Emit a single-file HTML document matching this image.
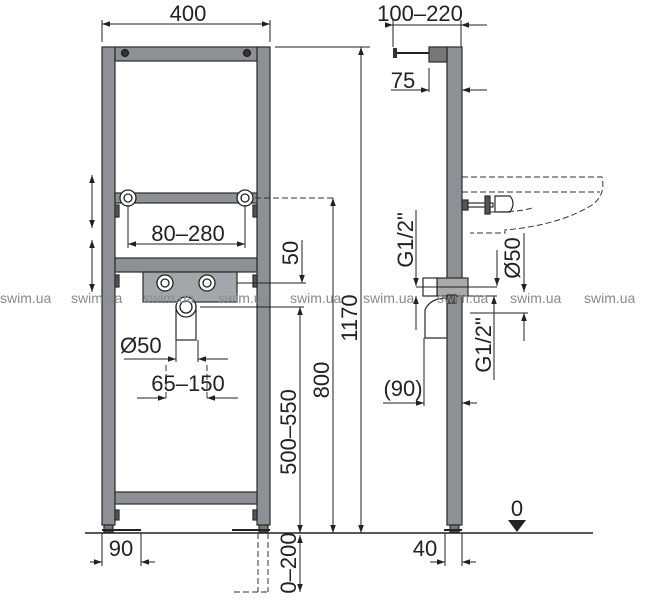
<!DOCTYPE html>
<html><head><meta charset="utf-8"><style>
html,body{margin:0;padding:0;background:#fff;width:655px;height:600px;overflow:hidden}
svg{display:block}
text{font-family:"Liberation Sans",sans-serif;fill:#222}
.d{font-size:22px}
.w{font-size:14px;fill:#8a8a8a}
</style></head><body>
<svg width="655" height="600" viewBox="0 0 655 600" xmlns="http://www.w3.org/2000/svg">
<defs>
<marker id="a" viewBox="0 0 10 10" refX="10" refY="5" markerWidth="8" markerHeight="8" orient="auto-start-reverse"><path d="M0,1.5 L10,5 L0,8.5z" fill="#222"/></marker>
</defs>
<g stroke="#222" stroke-width="1" fill="none">
<!-- floor -->
<line x1="85" y1="533" x2="593" y2="533" stroke-width="1.6"/>
</g>
<!-- FRONT FRAME -->
<g fill="#8e9095" stroke="#2a2a2a" stroke-width="1.2">
<rect x="102" y="47" width="13" height="478"/>
<rect x="257" y="47" width="13" height="478"/>
<rect x="115" y="47" width="142" height="14"/>
<rect x="115" y="258" width="142" height="14"/>
<rect x="115" y="492" width="142" height="12"/>
<rect x="115" y="193" width="142" height="10"/>
<rect x="143" y="272" width="94" height="30" fill="#a4a6aa"/>
<rect x="176" y="306" width="20" height="34" fill="#fff"/>
<rect x="104" y="525" width="9" height="7" fill="#777"/>
<rect x="259" y="525" width="9" height="7" fill="#777"/>
<rect x="115" y="510" width="4" height="10" fill="#555"/>
<rect x="253" y="510" width="4" height="10" fill="#555"/>
<rect x="115" y="205" width="4" height="12" fill="#555"/>
<rect x="253" y="205" width="4" height="12" fill="#555"/>
<rect x="115" y="275" width="4" height="12" fill="#555"/>
<rect x="253" y="275" width="4" height="12" fill="#555"/>
</g>
<g fill="#fff" stroke="#222" stroke-width="1.3">
<circle cx="125" cy="53" r="3.5" fill="#333"/>
<circle cx="247" cy="53" r="3.5" fill="#333"/>
<circle cx="128" cy="198" r="8"/><circle cx="128" cy="198" r="4"/>
<circle cx="245" cy="198" r="8"/><circle cx="245" cy="198" r="4"/>
<circle cx="165" cy="283" r="8"/><circle cx="165" cy="283" r="4"/>
<circle cx="207" cy="283" r="8"/><circle cx="207" cy="283" r="4"/>
<circle cx="186" cy="307" r="10"/><circle cx="186" cy="307" r="6"/>
</g>
<line x1="102" y1="530" x2="141" y2="530" stroke="#222" stroke-width="2"/>
<line x1="232" y1="530" x2="270" y2="530" stroke="#222" stroke-width="2"/>
<!-- SIDE FRAME -->
<g fill="#8e9095" stroke="#2a2a2a" stroke-width="1.2">
<rect x="447" y="47" width="15" height="478"/>
<rect x="429" y="47" width="18" height="15" fill="#777"/>
<rect x="450" y="525" width="9" height="7" fill="#777"/>
<rect x="437" y="278" width="31" height="18" fill="#aaa"/>
<path d="M425,338 L425,310 Q430,298 447,298 L447,338z" fill="#fff"/>
<rect x="462" y="200" width="6" height="10" fill="#555"/>
<rect x="468" y="203" width="25" height="4" fill="#fff"/>
<rect x="485" y="196" width="5" height="18" fill="#555"/>
<path d="M495,196 L510,196 Q516,203 510,212 L495,212z" fill="#fff"/>
<rect x="423" y="278" width="14" height="18" fill="#fff"/>
<rect x="447" y="295" width="9" height="8" fill="#555"/>
</g>
<line x1="395" y1="53" x2="429" y2="53" stroke="#222" stroke-width="2"/>
<rect x="393" y="48" width="4" height="10" fill="#333"/>
<line x1="444" y1="530" x2="462" y2="530" stroke="#222" stroke-width="2"/>
<!-- sink dashed -->
<g stroke="#333" stroke-width="1" fill="none" stroke-dasharray="6,3">
<path d="M462,177 L602,177 Q606,195 592,205 Q560,225 505,230 L505,233 L470,233"/>
<line x1="462" y1="192" x2="600" y2="192"/>
<path d="M490,212 Q520,212 532,208"/>
<line x1="258" y1="533" x2="258" y2="592"/>
<line x1="268" y1="533" x2="268" y2="592"/>
<line x1="234" y1="592" x2="268" y2="592"/>
<line x1="166" y1="365" x2="166" y2="398"/>
<line x1="207" y1="365" x2="207" y2="398"/>
<line x1="255" y1="198" x2="333" y2="198"/>
</g>
<!-- DIMENSIONS -->
<g stroke="#222" stroke-width="1" fill="none">
<line x1="102" y1="20" x2="102" y2="42"/><line x1="270" y1="20" x2="270" y2="42"/>
<line x1="102" y1="24" x2="270" y2="24" marker-start="url(#a)" marker-end="url(#a)"/>
<line x1="128" y1="205" x2="128" y2="248"/><line x1="245" y1="205" x2="245" y2="248"/>
<line x1="128" y1="244" x2="245" y2="244" marker-start="url(#a)" marker-end="url(#a)"/>
<line x1="92" y1="175" x2="92" y2="228" marker-start="url(#a)" marker-end="url(#a)"/>
<line x1="92" y1="240" x2="92" y2="292" marker-start="url(#a)" marker-end="url(#a)"/>
<line x1="302" y1="240" x2="302" y2="283" marker-end="url(#a)"/>
<line x1="237" y1="283" x2="306" y2="283"/>
<line x1="333" y1="198" x2="333" y2="533" marker-start="url(#a)" marker-end="url(#a)"/>
<line x1="275" y1="47" x2="370" y2="47"/>
<line x1="361" y1="47" x2="361" y2="533" marker-start="url(#a)" marker-end="url(#a)"/>
<line x1="200" y1="307" x2="304" y2="307"/>
<line x1="300" y1="307" x2="300" y2="533" marker-start="url(#a)" marker-end="url(#a)"/>
<line x1="300" y1="535" x2="300" y2="592" marker-start="url(#a)" marker-end="url(#a)"/>
<line x1="176" y1="340" x2="176" y2="362"/><line x1="198" y1="340" x2="198" y2="362"/>
<line x1="124" y1="359" x2="176" y2="359" marker-end="url(#a)"/>
<line x1="198" y1="359" x2="228" y2="359" marker-start="url(#a)"/>
<line x1="137" y1="398" x2="166" y2="398" marker-end="url(#a)"/>
<line x1="207" y1="398" x2="238" y2="398" marker-start="url(#a)"/>
<line x1="102" y1="533" x2="102" y2="566"/><line x1="141" y1="533" x2="141" y2="566"/>
<line x1="90" y1="562" x2="102" y2="562" marker-end="url(#a)"/>
<line x1="141" y1="562" x2="155" y2="562" marker-start="url(#a)"/>
<!-- side -->
<line x1="393" y1="20" x2="393" y2="47"/><line x1="461" y1="20" x2="461" y2="47"/>
<line x1="385" y1="25" x2="393" y2="25" marker-end="url(#a)"/>
<line x1="461" y1="25" x2="487" y2="25" marker-start="url(#a)"/>
<line x1="393" y1="25" x2="461" y2="25"/>
<line x1="429" y1="68" x2="429" y2="92"/>
<line x1="391" y1="90" x2="429" y2="90" marker-end="url(#a)"/>
<line x1="462" y1="90" x2="487" y2="90" marker-start="url(#a)"/>
<line x1="416" y1="210" x2="416" y2="286" marker-end="url(#a)"/>
<line x1="416" y1="287" x2="497" y2="287"/>
<line x1="416" y1="330" x2="416" y2="296" marker-end="url(#a)"/>
<line x1="497" y1="250" x2="497" y2="286" marker-end="url(#a)"/>
<line x1="494" y1="380" x2="494" y2="296" marker-end="url(#a)"/>
<line x1="456" y1="296" x2="497" y2="296"/>
<line x1="524" y1="233" x2="524" y2="292" marker-end="url(#a)"/>
<line x1="470" y1="313" x2="528" y2="313"/>
<line x1="524" y1="341" x2="524" y2="313" marker-end="url(#a)"/>
<line x1="424" y1="338" x2="424" y2="406"/>
<line x1="383" y1="403" x2="424" y2="403" marker-end="url(#a)"/>
<line x1="462" y1="403" x2="477" y2="403" marker-start="url(#a)"/>
<line x1="445" y1="533" x2="445" y2="566"/><line x1="462" y1="533" x2="462" y2="566"/>
<line x1="430" y1="562" x2="445" y2="562" marker-end="url(#a)"/>
<line x1="462" y1="562" x2="476" y2="562" marker-start="url(#a)"/>
</g>
<path d="M508,520 L526,520 L517,532z" fill="#222"/>
<!-- LABELS -->
<text class="d" x="188" y="21" text-anchor="middle">400</text>
<text class="d" x="188" y="241" text-anchor="middle">80–280</text>
<text class="d" x="120" y="353">Ø50</text>
<text class="d" x="188" y="391" text-anchor="middle">65–150</text>
<text class="d" x="121" y="556" text-anchor="middle">90</text>
<text class="d" x="420" y="21" text-anchor="middle">100–220</text>
<text class="d" x="403" y="88" text-anchor="middle">75</text>
<text class="d" x="403" y="396" text-anchor="middle">(90)</text>
<text class="d" x="425" y="556" text-anchor="middle">40</text>
<text class="d" x="517" y="516" text-anchor="middle">0</text>
<text class="d" transform="translate(298,253) rotate(-90)" text-anchor="middle">50</text>
<text class="d" transform="translate(329,380) rotate(-90)" text-anchor="middle">800</text>
<text class="d" transform="translate(357,318) rotate(-90)" text-anchor="middle">1170</text>
<text class="d" transform="translate(296,432) rotate(-90)" text-anchor="middle">500–550</text>
<text class="d" transform="translate(296,563) rotate(-90)" text-anchor="middle">0–200</text>
<text class="d" transform="translate(413,240) rotate(-90)" text-anchor="middle">G1/2"</text>
<text class="d" transform="translate(520,258) rotate(-90)" text-anchor="middle">Ø50</text>
<text class="d" transform="translate(491,345) rotate(-90)" text-anchor="middle">G1/2"</text>
<!-- watermarks -->
<text class="w" x="0" y="303">swim.ua</text>
<text class="w" x="71" y="303">swim.ua</text>
<text class="w" x="143" y="303">swim.ua</text>
<text class="w" x="218" y="303">swim.ua</text>
<text class="w" x="290" y="303">swim.ua</text>
<text class="w" x="363" y="303">swim.ua</text>
<text class="w" x="437" y="303">swim.ua</text>
<text class="w" x="510" y="303">swim.ua</text>
<text class="w" x="584" y="303">swim.ua</text>
</svg>
</body></html>
